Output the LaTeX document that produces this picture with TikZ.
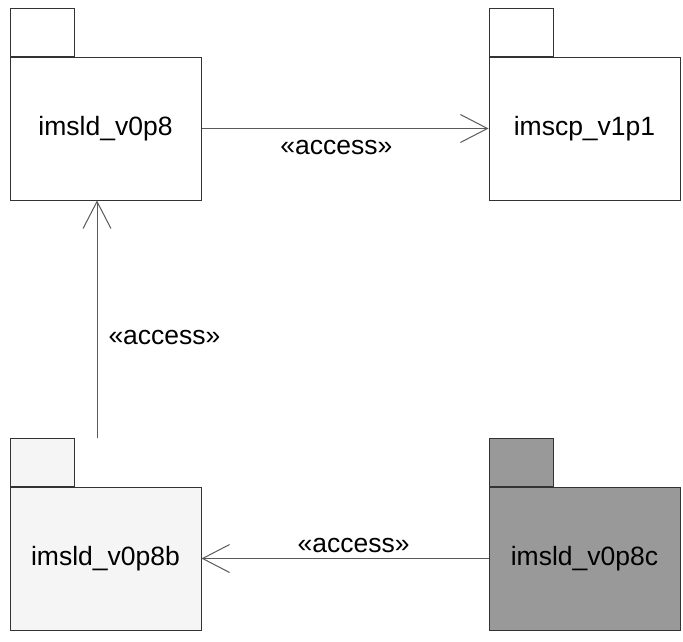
\documentclass[tikz,border=0pt]{standalone}
\usepackage{fontspec}
\setmainfont{Liberation Sans}
\usepackage{tikz}
\usetikzlibrary{arrows.meta, positioning}
\definecolor{pkgline}{HTML}{333333}
\definecolor{lightfill}{HTML}{F5F5F5}
\definecolor{darkfill}{HTML}{999999}
\tikzstyle{pkg} = [rectangle, minimum width=191pt, minimum height=143pt, inner sep=0pt, align=center, draw=pkgline, line width=1pt, fill=white, font=\fontsize{26.5pt}{30pt}\selectfont]
\tikzstyle{pkgtab} = [rectangle, minimum width=64pt, minimum height=48pt, inner sep=0pt, anchor=south west, draw=pkgline, line width=1pt, fill=white]
\tikzstyle{access} = [line width=1pt, draw=black!65, ->, >={Straight Barb[length=27pt,width=28pt]}]
\tikzstyle{acclabel} = [inner sep=2pt, font=\fontsize{26.5pt}{30pt}\selectfont]

\begin{document}
\begin{tikzpicture}

            \useasboundingbox (0,0) rectangle (683pt,-641pt);

            % Place packages
            \node (tl) [pkg] at (105.5pt,-128.5pt) {imsld\_v0p8};
            \node (tr) [pkg, right of=tl, node distance=479pt] {imscp\_v1p1};
            \node (bl) [pkg, fill=lightfill, below of=tl, node distance=430pt] {imsld\_v0p8b};
            \node (br) [pkg, fill=darkfill, right of=bl, node distance=479pt] {imsld\_v0p8c};

            % Tabs on top of the packages
            \node (tltab) [pkgtab] at (tl.north west) {};
            \node (trtab) [pkgtab] at (tr.north west) {};
            \node (bltab) [pkgtab, fill=lightfill] at (bl.north west) {};
            \node (brtab) [pkgtab, fill=darkfill] at (br.north west) {};

            % Helper points for the vertical edge
            \coordinate (vtop) at ([xshift=-8.5pt]tl.south);
            \coordinate (vbot) at (vtop |- bltab.north);

            % Draw edges
            \draw [access] (tl.east) -- node[acclabel, below, pos=0.47, yshift=-9pt] {«access»} (tr.west);
            \draw [access] (vbot) -- node[acclabel, right, pos=0.42, xshift=9pt] {«access»} (vtop);
            \draw [access] (br.west) -- node[acclabel, above, pos=0.47, yshift=3pt] {«access»} (bl.east);

        \end{tikzpicture}
\end{document}
